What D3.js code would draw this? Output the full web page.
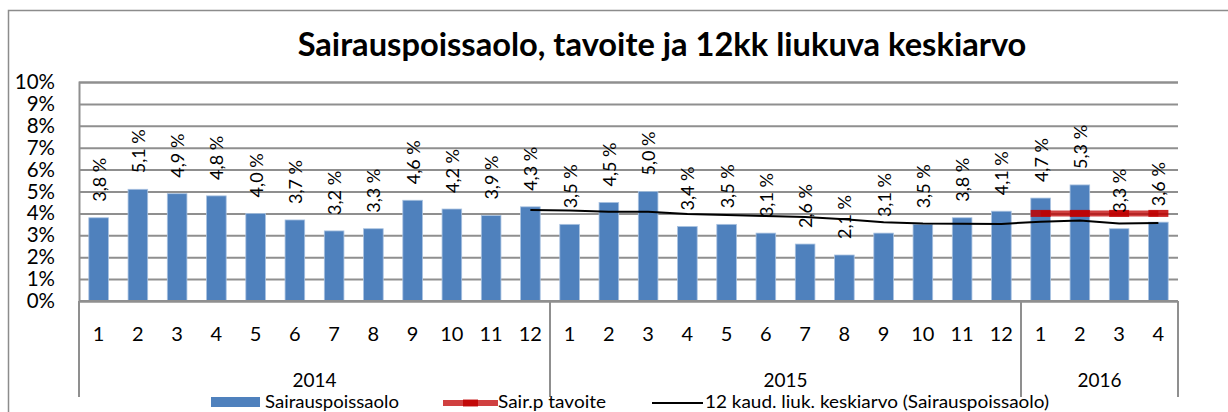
<!DOCTYPE html>
<html>
<head>
<meta charset="utf-8">
<script src="https://cdn.jsdelivr.net/npm/d3@7"></script>
<style>
  html, body { margin: 0; padding: 0; background: #fff; }
  svg { display: block; font-family: Lato, "Liberation Sans", sans-serif; }
</style>
</head>
<body>
<svg id="chart" width="1228" height="412"></svg>
<script>
// Months shown along the category axis, grouped by year
const years = ["2014", "2015", "2016"];
const monthsPerYear = [12, 12, 4];
const monthLabels = ["1","2","3","4","5","6","7","8","9","10","11","12",
                     "1","2","3","4","5","6","7","8","9","10","11","12",
                     "1","2","3","4"];

// Monthly sick-leave rate (%)
const sickLeave = [3.8, 5.1, 4.9, 4.8, 4.0, 3.7, 3.2, 3.3, 4.6, 4.2, 3.9, 4.3,
                   3.5, 4.5, 5.0, 3.4, 3.5, 3.1, 2.6, 2.1, 3.1, 3.5, 3.8, 4.1,
                   4.7, 5.3, 3.3, 3.6];

// Target (%), defined for the 2016 months only
const targetStart = 24;
const target = [4.0, 4.0, 4.0, 4.0];

// 12-month moving average (%), from December 2014 onwards
const avgStart = 11;
const movingAvg = [4.15, 4.13, 4.08, 4.08, 3.97, 3.93, 3.88, 3.83, 3.73,
                   3.60, 3.54, 3.53, 3.52, 3.62, 3.68, 3.54, 3.56];

const yTicks = [0,1,2,3,4,5,6,7,8,9,10];

const titleText = "Sairauspoissaolo, tavoite ja 12kk liukuva keskiarvo";
const legendNames = ["Sairauspoissaolo", "Sair.p tavoite", "12 kaud. liuk. keskiarvo (Sairauspoissaolo)"];

const svg = d3.select("#chart");
const plot = { left: 79, right: 1178, top: 82, bottom: 301 };
const gridColor = "#8f8f8f";
const barColor = "#4f81bd";
const redColor = "#c00000";

// Scale a text's font size so that it spans the given width
function fitWidth(sel, width) {
  const node = sel.node();
  const size = parseFloat(sel.attr("font-size")) ||
               parseFloat(getComputedStyle(node).fontSize);
  const w = node.getComputedTextLength();
  if (w > 0) sel.attr("font-size", (size * width / w).toFixed(2));
  return sel;
}

const x = d3.scaleBand()
  .domain(d3.range(sickLeave.length))
  .range([plot.left, plot.right])
  .paddingInner(0.5)
  .paddingOuter(0.25);
const cx = i => x(i) + x.bandwidth() / 2;
const y = d3.scaleLinear().domain([0, 10]).range([plot.bottom, plot.top]);

// Outer chart frame (left and top edges)
svg.append("path")
  .attr("d", "M8.5,412 V10.5 H1228")
  .attr("fill", "none").attr("stroke", "#8c8c8c").attr("stroke-width", 1.5);

// Title
const title = svg.append("text")
  .attr("x", 662).attr("y", 56)
  .attr("text-anchor", "middle")
  .attr("font-weight", "bold")
  .attr("font-size", 30)
  .text(titleText);
fitWidth(title, 729);

// Horizontal gridlines and value axis
const yAxis = d3.axisLeft(y).tickValues(yTicks).tickSize(-(plot.right - plot.left))
  .tickFormat(d => d + "%");
const yg = svg.append("g").attr("transform", `translate(${plot.left},0)`).call(yAxis);
yg.select(".domain").attr("stroke", gridColor).attr("stroke-width", 2);
yg.selectAll(".tick line").attr("stroke", gridColor).attr("stroke-width", 2);
yg.selectAll(".tick text")
  .attr("x", -24).attr("font-size", 20.5).attr("fill", "#000")
  .attr("font-family", "Lato, sans-serif");

// Bars
svg.append("g").selectAll("rect")
  .data(sickLeave)
  .join("rect")
  .attr("x", (d, i) => x(i))
  .attr("y", d => y(d))
  .attr("width", x.bandwidth())
  .attr("height", d => y(0) - y(d))
  .attr("fill", barColor)
  .attr("stroke", "#a9c2e0").attr("stroke-width", 0.8);

// Redraw the baseline over the bars
svg.append("line")
  .attr("x1", plot.left).attr("x2", plot.right)
  .attr("y1", y(0)).attr("y2", y(0))
  .attr("stroke", gridColor).attr("stroke-width", 2);

// Category axis: month labels and year group separators
const cat = svg.append("g");
cat.selectAll("text.month")
  .data(monthLabels)
  .join("text")
  .attr("class", "month")
  .attr("x", (d, i) => cx(i))
  .attr("y", 333)
  .attr("text-anchor", "middle")
  .attr("dominant-baseline", "central")
  .attr("font-size", 20)
  .text(d => d);

let acc = 0;
const bounds = [0];
monthsPerYear.forEach(n => { acc += n; bounds.push(acc); });
const boundaryX = k => plot.left + (plot.right - plot.left) * bounds[k] / sickLeave.length;
cat.selectAll("line.sep")
  .data(bounds)
  .join("line")
  .attr("class", "sep")
  .attr("x1", (d, k) => boundaryX(k)).attr("x2", (d, k) => boundaryX(k))
  .attr("y1", plot.bottom).attr("y2", 397)
  .attr("stroke", gridColor).attr("stroke-width", 2);
cat.selectAll("text.year")
  .data(years)
  .join("text")
  .attr("class", "year")
  .attr("x", (d, k) => (boundaryX(k) + boundaryX(k + 1)) / 2)
  .attr("y", 379)
  .attr("text-anchor", "middle")
  .attr("dominant-baseline", "central")
  .attr("font-size", 19)
  .text(d => d);

// Target line with dash markers
const targetPts = target.map((v, j) => [cx(targetStart + j), y(v)]);
svg.append("path")
  .attr("d", d3.line()(targetPts))
  .attr("fill", "none").attr("stroke", redColor).attr("stroke-opacity", 0.75)
  .attr("stroke-width", 6);
svg.append("g").selectAll("rect")
  .data(targetPts)
  .join("rect")
  .attr("x", p => p[0] - 10).attr("y", p => p[1] - 3.5)
  .attr("width", 20).attr("height", 7)
  .attr("fill", redColor).attr("fill-opacity", 0.85);

// 12-month moving average
svg.append("path")
  .attr("d", d3.line()(movingAvg.map((v, j) => [cx(avgStart + j), y(v)])))
  .attr("fill", "none").attr("stroke", "#000").attr("stroke-width", 2);

// Rotated data labels above each bar
svg.append("g").selectAll("text")
  .data(sickLeave)
  .join("text")
  .attr("transform", (d, i) => `translate(${cx(i)},${y(d) - 16}) rotate(-90)`)
  .attr("dominant-baseline", "central")
  .attr("font-size", 18)
  .text(d => d.toFixed(1).replace(".", ",") + " %");

// Legend
const lg = svg.append("g").attr("font-size", 17.5);
const legendText = (xPos, name, width) => lg.append("text")
  .attr("x", xPos).attr("y", 401)
  .attr("dominant-baseline", "central")
  .attr("textLength", width).attr("lengthAdjust", "spacingAndGlyphs")
  .text(name);
lg.append("rect").attr("x", 211).attr("y", 397).attr("width", 49).attr("height", 10).attr("fill", barColor);
legendText(265, legendNames[0], 134);
lg.append("line").attr("x1", 443).attr("x2", 498).attr("y1", 403).attr("y2", 403)
  .attr("stroke", redColor).attr("stroke-opacity", 0.75).attr("stroke-width", 6);
lg.append("rect").attr("x", 463).attr("y", 399.5).attr("width", 15).attr("height", 7)
  .attr("fill", redColor).attr("fill-opacity", 0.85);
legendText(498, legendNames[1], 108);
lg.append("line").attr("x1", 652).attr("x2", 703).attr("y1", 403).attr("y2", 403)
  .attr("stroke", "#000").attr("stroke-width", 2);
legendText(705, legendNames[2], 344);
</script>
</body>
</html>
